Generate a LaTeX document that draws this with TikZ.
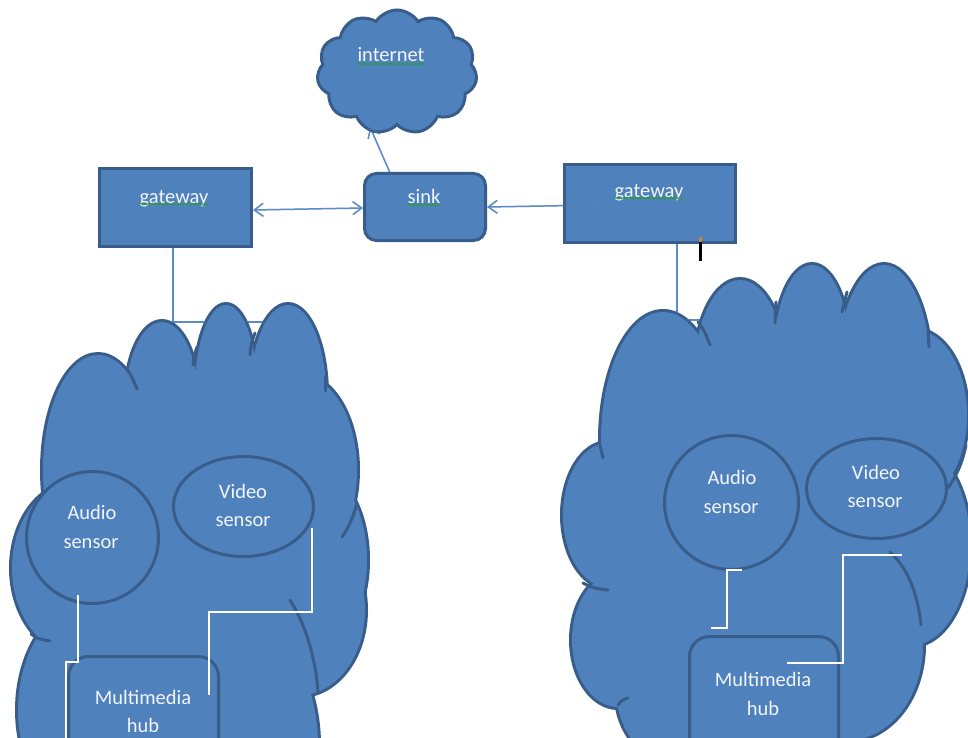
\documentclass[tikz,border=0pt]{standalone}
\usepackage{fontspec}
\setmainfont{Carlito}
\usetikzlibrary{shapes.geometric,shapes.symbols,arrows.meta,calc,decorations.pathmorphing,backgrounds}
\definecolor{shfill}{RGB}{79,129,189}
\definecolor{shline}{RGB}{56,93,138}
\definecolor{connc}{RGB}{91,139,200}
\definecolor{txtc}{RGB}{242,245,250}
\definecolor{squig}{RGB}{40,160,40}
\definecolor{cursorc}{RGB}{200,130,60}

\def\lobesleft{200/560/155/190, 98/470/55/115, 162/400/36/78, 226/390/31/85, 288/395/38/90, 300/470/57/95, 315/560/52/90, 300/610/65/85, 75/568/63/85, 95/710/77/110, 228/745/90/130}
\def\lobesright{770/540/165/200, 663/440/62/128, 740/370/45/90, 812/355/38/90, 884/375/47/110, 915/415/52/85, 912/545/58/100, 848/645/75/95, 608/515/45/72, 618/640/46/67, 705/695/88/80}

\newcommand\drawnetlinks[1]{%
  \draw[#1, bothtips] ([yshift=-2.5pt]gwL.east) -- ([yshift=-1pt]sink.west);
  \draw[#1, bothtips] (sink.east) -- ([xshift=37pt,yshift=-1.5pt]gwR.west);
  \draw[#1, bothtips] ($(inet.center)+(-27,55)$) -- ($(sink.center)+(-10,23)$);
  \draw[#1] ([xshift=-2.5pt]gwL.south) |- (elbL1) -- (elbL2);
  \draw[#1] ([xshift=27pt]gwR.south) |- (elbR1) -- (elbR2);
}

\begin{document}
\begin{tikzpicture}[x=1pt,y=-1pt,
  shapebase/.style={draw=shline, fill=shfill, line width=3pt, inner sep=0pt},
  gwbox/.style={shapebase, rectangle},
  sinkbox/.style={shapebase, rectangle, rounded corners=12pt},
  hubbox/.style={shapebase, rectangle, rounded corners=20pt},
  audiobox/.style={shapebase, circle},
  videobox/.style={shapebase, ellipse},
  netcloud/.style={shapebase, cloud, cloud puffs=11, cloud puff arc=115, cloud ignores aspect},
  lbl/.style={text=txtc, font=\fontsize{20.5}{29}\selectfont, inner sep=0pt, anchor=base},
  lnk/.style={draw=connc, line width=1.5pt},
  faintlnk/.style={lnk, draw opacity=0.18},
  bothtips/.style={arrows={Straight Barb[length=9pt,width=13pt]-Straight Barb[length=9pt,width=13pt]}},
  wire/.style={draw=white, line width=1.6pt},
  cloudrim/.style={draw=shline, line width=6pt},
  lobeline/.style={draw=shline, line width=3pt, line cap=round},
  squiggle/.style={draw=squig, line width=0.8pt, decorate, decoration={snake, segment length=4pt, amplitude=0.9pt}}
]
\useasboundingbox (0,0) rectangle (968,738);

% top nodes
\node[netcloud, minimum width=160pt, minimum height=124pt] (inet) at (397,72) {};
\node[sinkbox, minimum width=121pt, minimum height=67pt] (sink) at (425,207) {};
\node[gwbox, minimum width=152pt, minimum height=78pt] (gwL) at (175.5,207.5) {};
\node[gwbox, minimum width=171pt, minimum height=78pt] (gwR) at (650,203.5) {};

\coordinate (elbL1) at (267,322);
\coordinate (elbL2) at (267,400);
\coordinate (elbR1) at (772,320);
\coordinate (elbR2) at (772,400);

\begin{scope}
\clip (0,0) rectangle (968,738);
% left cloud
\foreach \cx/\cy/\rx/\ry in \lobesleft {\draw[cloudrim] (\cx,\cy) ellipse [x radius=\rx pt, y radius=\ry pt];}
\foreach \cx/\cy/\rx/\ry in \lobesleft {\fill[shfill] (\cx,\cy) ellipse [x radius=\rx pt, y radius=\ry pt];}
\draw[lobeline] (127,369) .. controls (132,377) .. (137,389);
\draw[lobeline] (197,347) .. controls (194,356) .. (193,365);
\draw[lobeline] (255,333) .. controls (251,344) .. (250,355);
\draw[lobeline] (325,376) -- (325,391);
\draw[lobeline] (357,503) .. controls (354,515) and (349,527) .. (342,537);
\draw[lobeline] (31,634) .. controls (38,639) .. (50,641);
\draw[lobeline] (290,600) .. controls (306,625) and (316,660) .. (318,693);
% right cloud
\foreach \cx/\cy/\rx/\ry in \lobesright {\draw[cloudrim] (\cx,\cy) ellipse [x radius=\rx pt, y radius=\ry pt];}
\foreach \cx/\cy/\rx/\ry in \lobesright {\fill[shfill] (\cx,\cy) ellipse [x radius=\rx pt, y radius=\ry pt];}
\draw[lobeline] (698,322) .. controls (705,332) .. (710,345);
\draw[lobeline] (776,302) .. controls (775,312) .. (775,323);
\draw[lobeline] (847,292) .. controls (844,302) .. (842,312);
\draw[lobeline] (928,332) -- (929,347);
\draw[lobeline] (966,445) .. controls (962,465) and (955,478) .. (948,488);
\draw[lobeline] (600,445) -- (603,458);
\draw[lobeline] (583,583) .. controls (593,588) .. (608,590);
\draw[lobeline] (618,705) .. controls (622,700) .. (628,698);
\draw[lobeline] (890,552) .. controls (908,568) and (918,595) .. (921,625);

% sensors and hubs
\node[audiobox, minimum size=132pt] (audL) at (92.5,537.5) {};
\node[videobox, minimum width=140pt, minimum height=100pt] (vidL) at (243.5,506.5) {};
\node[hubbox, minimum width=150pt, minimum height=150pt] (hubL) at (143.5,731.5) {};
\node[audiobox, minimum size=134pt] (audR) at (731.5,502.5) {};
\node[videobox, minimum width=140pt, minimum height=100pt] (vidR) at (876.5,488.5) {};
\node[hubbox, minimum width=149pt, minimum height=150pt] (hubR) at (764,711.5) {};
\end{scope}

% blue connectors under the shapes, and their faint show-through on top
\begin{pgfonlayer}{background}
\fill[white] (0,0) rectangle (968,738);
\drawnetlinks{lnk}
\end{pgfonlayer}
\drawnetlinks{faintlnk}

% white links inside the clouds
\draw[wire] ($(audL.center)+(-14.5,57.5)$) |- ([xshift=-1pt,yshift=69.5pt]hubL.west) -- ([xshift=-1pt,yshift=-15pt]hubL.west);
\draw[wire] ($(vidL.center)+(68.5,21.5)$) |- ($(hubL.center)+(65.5,-119.5)$) -- ($(hubL.center)+(65.5,-36.5)$);
\draw[wire] ($(audR.center)+(10.5,67.5)$) -| ($(hubR.north)+(-37,-7)$) -- ($(hubR.north)+(-53,-7)$);
\draw[wire] ($(vidR.center)+(25.5,66.5)$) -| ($(hubR.center)+(79,-48.5)$) -- ($(hubR.center)+(23,-48.5)$);

% texts
\node[lbl] (inett) at (391,62) {internet};
\node[lbl] (sinkt) at (424,203) {sink};
\node[lbl] (gwLt) at (174,203) {gateway};
\node[lbl] (gwRt) at (649,197) {gateway};
\node[lbl] (audLt1) at (92,519) {Audio};
\node[lbl] (audLt2) at (91,548) {sensor};
\node[lbl] (vidLt1) at (243,498) {Video};
\node[lbl] (vidLt2) at (243,526) {sensor};
\node[lbl] (hubLt1) at (143,704) {Multimedia};
\node[lbl] (hubLt2) at (143,732) {hub};
\node[lbl] (audRt1) at (732,484) {Audio};
\node[lbl] (audRt2) at (731,513) {sensor};
\node[lbl] (vidRt1) at (876,479) {Video};
\node[lbl] (vidRt2) at (875,507) {sensor};
\node[lbl] (hubRt1) at (763,686) {Multimedia};
\node[lbl] (hubRt2) at (763,715) {hub};

% spell-check squiggles
\draw[squiggle] ([yshift=-2pt]inett.base west) -- ([yshift=-2pt]inett.base east);
\draw[squiggle] ([yshift=-2pt]sinkt.base west) -- ([yshift=-2pt]sinkt.base east);
\draw[squiggle] ([yshift=-1pt]gwLt.base west) -- ([yshift=-1pt]gwLt.base east);
\draw[squiggle] ([yshift=-1pt]gwRt.base west) -- ([yshift=-1pt]gwRt.base east);

% text cursor mark
\fill[cursorc] (698.5,237) rectangle (701.5,242);
\fill[black] (698.5,242) rectangle (701.5,261);
\end{tikzpicture}
\end{document}
